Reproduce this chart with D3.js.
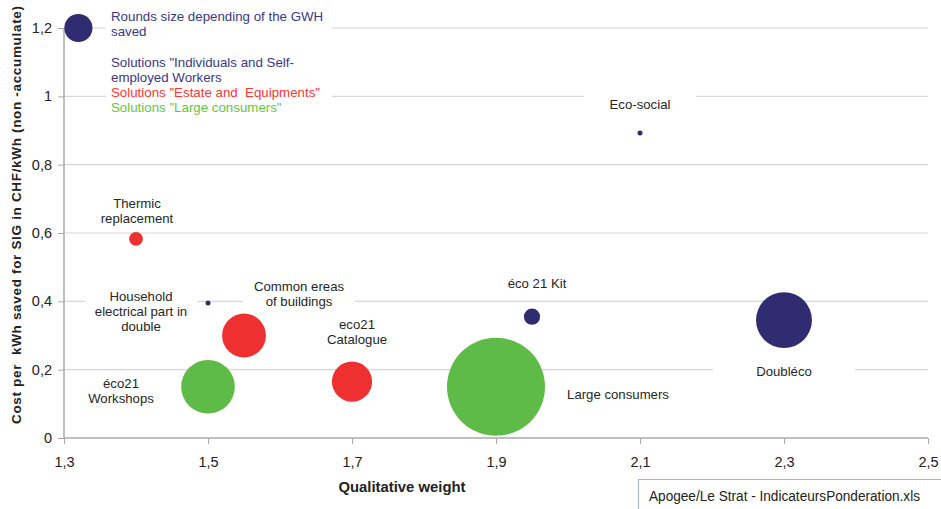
<!DOCTYPE html>
<html>
<head>
<meta charset="utf-8">
<script src="https://cdn.jsdelivr.net/npm/d3@7"></script>
<style>
  html, body { margin: 0; padding: 0; background: #fff; }
  svg { display: block; font-family: "Liberation Sans", Arial, sans-serif; }
</style>
</head>
<body>
<svg id="chart" width="941" height="509"></svg>
<script>
// ---------- data ----------
const names   = ["Eco-social", "Thermic replacement", "Household electrical part in double",
                 "Common ereas of buildings", "eco21 Catalogue", "éco21 Workshops",
                 "Large consumers", "éco 21 Kit", "Doubléco"];
const weights = [2.10, 1.40, 1.50, 1.55, 1.70, 1.50, 1.90, 1.95, 2.30];
const costs   = [0.893, 0.583, 0.395, 0.300, 0.165, 0.150, 0.150, 0.355, 0.345];
const gwhSaved = [0.1, 0.8, 0.1, 8.0, 6.7, 12.0, 40.0, 1.1, 13.0];
const groups  = ["ind", "est", "ind", "est", "est", "large", "large", "ind", "ind"];

const legendBubble = { weight: 1.32, cost: 1.2, gwh: 3.3 };
const legendLines = [
  { text: "Rounds size depending of the GWH", group: "ind" },
  { text: "saved", group: "ind" },
  { text: "", group: "ind" },
  { text: "Solutions \"Individuals and Self-", group: "ind" },
  { text: "employed Workers", group: "ind" },
  { text: "Solutions \"Estate and  Equipments\"", group: "est" },
  { text: "Solutions \"Large consumers\"", group: "large" }
];

const xTicks = [1.3, 1.5, 1.7, 1.9, 2.1, 2.3, 2.5];
const yTicks = [0, 0.2, 0.4, 0.6, 0.8, 1.0, 1.2];
const xTitle = "Qualitative weight";
const yTitle = "Cost per  kWh saved for SIG in CHF/kWh (non -accumulate)";
const sourceText = "Apogee/Le Strat - IndicateursPonderation.xls";

// ---------- layout / styles ----------
const bubbleColor = { ind: "#302C72", est: "#EE3030", large: "#5FBB47" };
const textColor   = { ind: "#3A3789", est: "#FF3434", large: "#66C63E" };

// label layout: lines, offset of label centre from bubble (px), half-width of white box
const labelLayout = [
  { lines: ["Eco-social"], dx: 0, dy: -29, half: 56 },
  { lines: ["Thermic", "replacement"], dx: 1, dy: -28, half: 0 },
  { lines: ["Household", "electrical part in", "double"], dx: -67, dy: 8, half: 56 },
  { lines: ["Common ereas", "of buildings"], dx: 55, dy: -42, half: 56 },
  { lines: ["eco21", "Catalogue"], dx: 5, dy: -50, half: 0 },
  { lines: ["éco21", "Workshops"], dx: -87, dy: 4, half: 0 },
  { lines: ["Large consumers"], dx: 122, dy: 8, half: 0 },
  { lines: ["éco 21 Kit"], dx: 5, dy: -33, half: 0 },
  { lines: ["Doubléco"], dx: 0, dy: 51, half: 71 }
];

const svg = d3.select("#chart");
const plotL = 64, plotR = 928, plotT = 28, plotB = 438;

const x = d3.scaleLinear().domain([1.3, 2.5]).range([plotL, plotR]);
const y = d3.scaleLinear().domain([0, 1.2]).range([plotB, plotT]);
const r = d3.scaleSqrt().domain([0, 40]).range([0, 49]);
const fmt = v => String(+v.toFixed(1)).replace(".", ",");

// gridlines
svg.append("g").selectAll("line").data(yTicks.filter(t => t > 0)).join("line")
  .attr("x1", plotL).attr("x2", plotR)
  .attr("y1", d => y(d)).attr("y2", d => y(d))
  .attr("stroke", "#D6D6D6").attr("stroke-width", 1.2);

// axes
const yAxis = svg.append("g").attr("transform", `translate(${plotL},0)`)
  .call(d3.axisLeft(y).tickValues(yTicks).tickFormat(fmt).tickSize(6).tickPadding(6));
const xAxis = svg.append("g").attr("transform", `translate(0,${plotB})`)
  .call(d3.axisBottom(x).tickValues(xTicks).tickFormat(fmt).tickSize(6).tickPadding(10));
[yAxis, xAxis].forEach(g => {
  g.select(".domain").attr("stroke", "#A8A8A8").attr("stroke-width", 1.5);
  g.selectAll(".tick line").attr("stroke", "#A8A8A8");
  g.selectAll(".tick text").attr("fill", "#222").attr("font-size", 14.5)
    .attr("font-family", "'Liberation Sans', Arial, sans-serif");
});
xAxis.select(".domain").attr("d", `M${plotL},0H${plotR}`);
yAxis.select(".domain").attr("d", `M0,${y(1.2)}V${plotB}`);
xAxis.selectAll(".tick text").attr("dy", "0.9em");

// axis titles
svg.append("text").attr("x", 402).attr("y", 492).attr("text-anchor", "middle")
  .attr("font-weight", "bold").attr("font-size", 14.5).attr("fill", "#222")
  .attr("textLength", 127).attr("lengthAdjust", "spacingAndGlyphs").text(xTitle);
svg.append("text").attr("transform", "translate(21,215) rotate(-90)")
  .attr("text-anchor", "middle").attr("font-weight", "bold").attr("font-size", 13.5)
  .attr("fill", "#222").style("white-space", "pre")
  .attr("textLength", 418).attr("lengthAdjust", "spacing").text(yTitle);

// data points
const pts = names.map((n, i) => ({
  name: n, wx: weights[i], cy: costs[i], gwh: gwhSaved[i], group: groups[i], lab: labelLayout[i]
}));

// label background boxes (cover gridlines like the original)
const labG = svg.append("g");
pts.forEach(p => {
  const cx = x(p.wx) + p.lab.dx, cyc = y(p.cy) + p.lab.dy;
  const n = p.lab.lines.length, lh = 15;
  if (p.lab.half > 0) {
    labG.append("rect").attr("x", cx - p.lab.half).attr("width", p.lab.half * 2)
      .attr("y", cyc - n * lh / 2 - 3).attr("height", n * lh + 6).attr("fill", "#fff");
  }
});

// bubbles (largest first)
svg.append("g").selectAll("circle")
  .data(pts.slice().sort((a, b) => b.gwh - a.gwh)).join("circle")
  .attr("cx", d => x(d.wx)).attr("cy", d => y(d.cy)).attr("r", d => Math.max(2.5, r(d.gwh)))
  .attr("fill", d => bubbleColor[d.group]);

// labels
pts.forEach(p => {
  const cx = x(p.wx) + p.lab.dx, cyc = y(p.cy) + p.lab.dy;
  const n = p.lab.lines.length, lh = 15;
  const t = labG.append("text").attr("text-anchor", "middle").attr("font-size", 13.2)
    .attr("fill", "#262626").style("white-space", "pre");
  p.lab.lines.forEach((ln, j) => {
    t.append("tspan").attr("x", cx).attr("y", cyc - (n - 1) * lh / 2 + j * lh)
      .attr("dy", "0.35em").text(ln);
  });
});

// legend bubble + text
const lbx = x(legendBubble.weight), lby = y(legendBubble.cost);
svg.append("rect").attr("x", 106).attr("y", 4).attr("width", 226).attr("height", 114).attr("fill", "#fff");
svg.append("circle").attr("cx", lbx).attr("cy", lby).attr("r", r(legendBubble.gwh)).attr("fill", bubbleColor.ind);
const lt = svg.append("text").attr("font-size", 13.3).style("white-space", "pre");
legendLines.forEach((l, j) => {
  lt.append("tspan").attr("x", 111).attr("y", 16 + j * 15.3).attr("dy", "0.35em")
    .attr("fill", textColor[l.group]).text(l.text);
});

// source box
svg.append("rect").attr("x", 638.5).attr("y", 479.5).attr("width", 320).attr("height", 40)
  .attr("fill", "#fff").attr("stroke", "#9DB3D8").attr("stroke-width", 1);
svg.append("text").attr("x", 649).attr("y", 501).attr("font-size", 14)
  .attr("font-family", "'Liberation Sans Narrow', 'Arial Narrow', sans-serif")
  .attr("fill", "#222").attr("textLength", 271).attr("lengthAdjust", "spacingAndGlyphs")
  .text(sourceText);
</script>
</body>
</html>
